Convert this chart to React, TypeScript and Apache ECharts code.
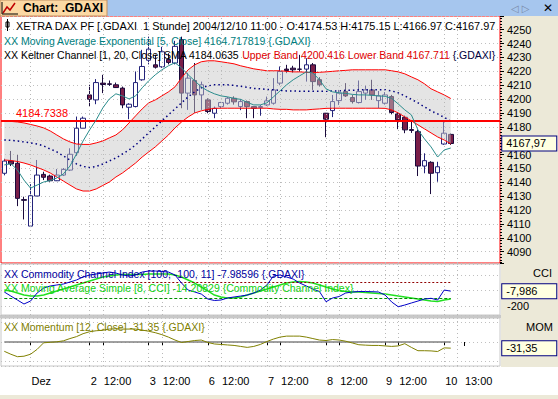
import React, { useEffect, useRef } from 'react';
import * as echarts from 'echarts';

// ---------- categories (hourly bars) ----------
const firstDayHours = ['15:00', '16:00', '17:00', '18:00'];
const tradingDays = ['01.12.', '02.12.', '03.12.', '06.12.', '07.12.', '08.12.', '09.12.', '10.12.'];
const sessionHours = ['10:00', '11:00', '12:00', '13:00', '14:00', '15:00', '16:00', '17:00', '18:00'];

// x axis tick labels [category, label]
const xTickLabels: [string, string][] = [
  ['01.12. 10:00', 'Dez'],
  ['02.12. 10:00', '2'], ['02.12. 12:00', '12:00'],
  ['03.12. 10:00', '3'], ['03.12. 12:00', '12:00'],
  ['06.12. 10:00', '6'], ['06.12. 12:00', '12:00'],
  ['07.12. 10:00', '7'], ['07.12. 12:00', '12:00'],
  ['08.12. 10:00', '8'], ['08.12. 12:00', '12:00'],
  ['09.12. 10:00', '9'], ['09.12. 12:00', '12:00'],
  ['10.12. 10:00', '10'], ['10.12. 13:00', '13:00'],
];
const gridLineCats = [
  '01.12. 10:00', '02.12. 10:00', '02.12. 12:00', '03.12. 10:00', '03.12. 12:00',
  '06.12. 10:00', '06.12. 12:00', '07.12. 10:00', '07.12. 12:00', '08.12. 10:00',
  '08.12. 12:00', '09.12. 10:00', '09.12. 12:00', '10.12. 10:00', '10.12. 12:00',
];

// ---------- price data ----------
const opens = [4146.5, 4155.4, 4153.7, 4127.5, 4108.4, 4130.1, 4145.7, 4144.5, 4141.1, 4145.2, 4148.8, 4161.3, 4179.0, 4203.0, 4199.4, 4211.5, 4211.0, 4210.3, 4207.9, 4194.1, 4194.6, 4213.9, 4228.0, 4224.7, 4223.3, 4228.5, 4226.0, 4242.8, 4204.3, 4213.4, 4203.0, 4199.4, 4189.8, 4194.6, 4197.0, 4200.6, 4194.6, 4198.2, 4194.6, 4194.0, 4195.8, 4197.0, 4211.5, 4221.6, 4222.3, 4221.6, 4221.6, 4224.7, 4214.0, 4189.8, 4191.7, 4198.9, 4205.4, 4201.1, 4197.5, 4204.3, 4206.6, 4198.9, 4197.0, 4201.8, 4189.3, 4186.9, 4178.0, 4176.5, 4151.7, 4154.4, 4146.9, 4167.6, 4174.53];
const closes = [4155.3, 4153.2, 4128.4, 4127.0, 4130.3, 4145.2, 4143.6, 4141.1, 4145.2, 4149.3, 4160.2, 4179.0, 4186.2, 4199.9, 4211.9, 4210.5, 4210.6, 4208.3, 4195.8, 4196.3, 4211.9, 4223.5, 4236.0, 4223.0, 4234.1, 4226.4, 4238.0, 4204.3, 4215.1, 4203.0, 4210.3, 4191.0, 4193.4, 4197.5, 4200.6, 4198.0, 4198.2, 4194.6, 4193.4, 4194.6, 4198.7, 4206.6, 4219.9, 4220.6, 4221.1, 4221.5, 4224.7, 4212.6, 4210.3, 4185.5, 4198.2, 4204.3, 4202.3, 4198.2, 4205.4, 4206.6, 4203.0, 4202.3, 4203.0, 4190.3, 4185.0, 4177.8, 4177.4, 4151.7, 4155.6, 4146.5, 4151.2, 4175.4, 4167.97];
const lows = [4145.0, 4151.7, 4122.8, 4113.2, 4107.7, 4130.0, 4141.6, 4140.5, 4140.9, 4144.5, 4148.1, 4159.0, 4179.0, 4194.6, 4196.3, 4204.3, 4209.5, 4208.0, 4193.4, 4185.5, 4194.0, 4213.2, 4225.0, 4222.0, 4222.5, 4225.0, 4225.0, 4193.4, 4192.2, 4190.0, 4192.2, 4189.8, 4186.2, 4193.4, 4196.0, 4196.0, 4192.0, 4186.2, 4186.2, 4188.0, 4195.0, 4196.0, 4210.0, 4218.7, 4219.0, 4219.8, 4212.6, 4206.6, 4209.0, 4172.5, 4187.0, 4195.8, 4201.5, 4196.8, 4196.8, 4199.5, 4199.4, 4193.4, 4196.0, 4189.0, 4178.3, 4175.4, 4175.6, 4144.5, 4146.5, 4131.5, 4140.4, 4167.0, 4166.97];
const highs = [4157.0, 4162.6, 4159.7, 4129.6, 4138.7, 4156.1, 4147.6, 4145.5, 4149.6, 4150.3, 4164.5, 4187.4, 4187.4, 4210.3, 4214.4, 4217.5, 4213.4, 4211.9, 4209.0, 4197.0, 4219.9, 4235.5, 4245.0, 4232.0, 4237.7, 4233.0, 4242.0, 4245.0, 4218.9, 4226.0, 4212.6, 4200.6, 4194.6, 4198.0, 4201.5, 4202.0, 4200.0, 4199.0, 4195.0, 4195.8, 4201.8, 4215.1, 4223.5, 4224.7, 4224.0, 4231.9, 4229.5, 4226.0, 4215.8, 4190.0, 4203.0, 4206.6, 4211.5, 4203.0, 4213.4, 4209.6, 4213.9, 4205.8, 4205.0, 4203.0, 4190.5, 4188.1, 4184.7, 4178.0, 4160.9, 4155.2, 4154.8, 4183.7, 4175.15];

// ---------- indicators ----------
const emaValues = [4152.5, 4153.5, 4148.9, 4141.6, 4135.8, 4138.0, 4140.2, 4141.3, 4143.1, 4146.0, 4151.7, 4160.4, 4169.8, 4177.8, 4185.0, 4193.6, 4200.1, 4203.8, 4202.3, 4200.1, 4202.3, 4208.1, 4213.2, 4217.5, 4221.1, 4224.0, 4226.2, 4222.5, 4217.5, 4213.2, 4208.8, 4205.9, 4203.8, 4202.3, 4201.6, 4200.5, 4199.8, 4197.6, 4195.8, 4195.8, 4197.3, 4201.6, 4205.9, 4210.3, 4213.9, 4216.8, 4219.6, 4218.9, 4213.9, 4207.4, 4205.2, 4204.5, 4204.1, 4203.4, 4203.0, 4203.0, 4202.7, 4202.3, 4202.0, 4200.5, 4196.5, 4192.2, 4188.6, 4177.8, 4171.3, 4165.5, 4158.2, 4163.3, 4164.717819];
const kcUpper = [4184.3, 4183.9, 4183.5, 4182.8, 4181.7, 4180.6, 4179.2, 4177.0, 4174.1, 4171.3, 4169.1, 4167.6, 4167.3, 4167.3, 4168.4, 4169.8, 4172.0, 4174.1, 4177.8, 4182.8, 4187.9, 4192.9, 4197.3, 4199.4, 4202.3, 4205.2, 4208.8, 4215.3, 4221.1, 4224.7, 4226.9, 4227.6, 4227.6, 4226.9, 4226.2, 4225.4, 4224.0, 4222.9, 4221.8, 4221.1, 4220.4, 4220.4, 4220.4, 4220.0, 4219.6, 4219.6, 4219.3, 4219.1, 4219.3, 4219.6, 4220.0, 4220.4, 4220.7, 4221.1, 4221.1, 4221.1, 4221.1, 4221.1, 4221.1, 4220.4, 4219.6, 4218.2, 4216.0, 4213.9, 4211.0, 4207.4, 4205.2, 4203.0, 4200.416];
const kcMiddle = [4170.5, 4170.2, 4169.8, 4169.1, 4168.4, 4167.6, 4166.2, 4164.0, 4161.9, 4159.0, 4156.1, 4153.2, 4151.4, 4150.7, 4151.4, 4153.2, 4155.4, 4157.5, 4160.4, 4163.3, 4166.9, 4171.3, 4175.6, 4179.9, 4184.3, 4188.6, 4192.9, 4197.3, 4201.6, 4205.2, 4208.1, 4209.5, 4210.3, 4210.3, 4210.3, 4209.9, 4209.2, 4208.5, 4207.7, 4207.4, 4207.0, 4206.7, 4206.3, 4205.9, 4205.9, 4205.6, 4205.6, 4205.6, 4205.6, 4205.6, 4205.9, 4205.9, 4206.3, 4206.3, 4206.7, 4206.7, 4206.7, 4206.7, 4206.7, 4205.9, 4204.5, 4202.3, 4199.8, 4197.3, 4194.4, 4191.5, 4189.3, 4186.8, 4184.0635];
const kcLower = [4156.1, 4155.7, 4155.0, 4153.9, 4152.5, 4150.7, 4148.9, 4146.7, 4143.8, 4140.9, 4138.0, 4135.2, 4133.7, 4133.7, 4135.2, 4137.7, 4140.2, 4143.8, 4146.7, 4150.3, 4153.9, 4158.2, 4161.9, 4165.5, 4169.8, 4174.1, 4179.2, 4183.5, 4187.1, 4190.0, 4191.5, 4192.6, 4193.3, 4193.4, 4193.4, 4193.4, 4193.4, 4193.4, 4193.4, 4193.4, 4193.4, 4192.9, 4192.6, 4192.6, 4192.2, 4192.2, 4192.2, 4192.6, 4192.9, 4193.3, 4193.4, 4193.4, 4193.4, 4193.4, 4193.4, 4193.4, 4193.4, 4193.4, 4193.3, 4192.2, 4190.0, 4187.1, 4184.3, 4181.4, 4178.5, 4175.6, 4172.7, 4170.5, 4167.711];
const priceLevel = 4184.7338;

const cciValues = [-19, -71, -122, -173, -135, -32, 32, 58, 71, 83, 109, 135, 173, 199, 212, 224, 237, 224, 199, 186, 199, 237, 250, 250, 244, 237, 199, 96, 6, -19, -45, -109, -128, -122, -96, -83, -71, -58, -32, 6, 71, 186, 199, 173, 147, 96, 58, 19, -13, -144, -96, -77, -32, -19, -13, -13, -15, -19, -58, -147, -208, -186, -160, -135, -109, -100, -122, 6, -7.98596];
const cciSmaValues = [6, -6, -32, -58, -71, -71, -58, -32, -6, 19, 45, 71, 96, 122, 147, 173, 186, 199, 205, 205, 205, 205, 212, 212, 212, 212, 199, 173, 135, 96, 45, -6, -58, -83, -96, -96, -83, -58, -32, -6, 19, 45, 71, 96, 109, 115, 109, 96, 71, 45, 19, 0, -13, -19, -19, -26, -32, -38, -45, -58, -71, -83, -96, -109, -122, -135, -141, -122, -109];
const cciLevels = [100, -100];

const momValues = [-47.5, -62.5, -75, -72.5, -62.5, -37.5, -4, -1.5, 1, 6, 17.5, 27.5, 42.5, 52.5, 57.5, 60, 66, 67.5, 66, 66, 66, 61, 55, 47.5, 37.5, 25, 10, -2.5, 2.5, 7.5, 10, -2.5, -10, -12.5, -15, -17.5, -22.5, -27.5, -22.5, -12.5, 2.5, 15, 25, 30, 30, 30, 25, 17.5, 10, 7.5, 12.5, 10, 4, -5, -14, -16, -17.5, -17.5, -20, -22.5, -20, -8.5, -27.5, -44.5, -44.5, -45.5, -48.5, -30, -31.35];

const FONT = 'Liberation Sans';

export default function App() {
  const ref = useRef<HTMLDivElement>(null);

  useEffect(() => {
    if (!ref.current) return;
    const chart = echarts.init(ref.current, undefined, { renderer: 'svg' });

    const categories: string[] = [];
    firstDayHours.forEach((h) => categories.push(`30.11. ${h}`));
    tradingDays.forEach((d) => sessionHours.forEach((h) => categories.push(`${d} ${h}`)));

    const tickMap: Record<string, string> = {};
    xTickLabels.forEach(([c, l]) => { tickMap[c] = l; });
    const last = closes.length - 1;
    const lastCat = categories[last];

    const candleData = opens.map((o, i) => [o, closes[i], lows[i], highs[i]]);
    const bandWidth = kcUpper.map((u, i) => u - kcLower[i]);
    const hiddenPriceLabel = Math.round(closes[last] / 10) * 10; // covered by the value box

    const valueBox = (text: string) => ({
      show: true,
      position: 'right',
      distance: 51.5,
      formatter: text,
      color: '#000',
      fontSize: 11,
      fontFamily: FONT,
      backgroundColor: '#FFFFE1',
      borderColor: '#000080',
      borderWidth: 1,
      padding: [2, 3, 1, 4],
      width: 47,
    });

    const gridHelper = (gi: number) => ({
      type: 'line',
      xAxisIndex: gi,
      yAxisIndex: gi,
      data: [],
      z: 1,
      silent: true,
      markLine: {
        silent: true,
        symbol: ['none', 'none'],
        label: { show: false },
        lineStyle: { color: '#b8b8b8', type: [1, 3], width: 1 },
        data: gridLineCats.map((c) => ({ xAxis: c })),
      },
    });

    const xAxisBase = (gi: number) => ({
      type: 'category',
      gridIndex: gi,
      data: categories,
      boundaryGap: true,
      axisLine: { show: false },
      axisTick: { show: false },
      axisLabel: { show: false },
      splitLine: { show: false },
    });

    const option: any = {
      animation: false,
      backgroundColor: '#ffffff',
      grid: [
        { left: 1, top: 16, width: 499, height: 247, show: true, borderColor: '#ff0000', borderWidth: 1, backgroundColor: '#ffffff' },
        { left: 1, top: 264, width: 499, height: 51, show: true, borderColor: '#c8c8c8', borderWidth: 1, backgroundColor: '#ffffff' },
        { left: 1, top: 318, width: 499, height: 48, show: true, borderColor: '#c8c8c8', borderWidth: 1, backgroundColor: '#ffffff' },
      ],
      xAxis: [
        xAxisBase(0),
        xAxisBase(1),
        {
          ...xAxisBase(2),
          position: 'bottom',
          offset: 5,
          axisTick: {
            show: true,
            alignWithLabel: true,
            length: 4,
            interval: (_i: number, v: string) => tickMap[v] !== undefined,
            lineStyle: { color: '#000' },
          },
          axisLabel: {
            show: true,
            interval: (_i: number, v: string) => tickMap[v] !== undefined,
            formatter: (v: string) => tickMap[v] || '',
            align: 'left',
            padding: [0, 0, 0, 1],
            margin: 4,
            color: '#000',
            fontSize: 11,
            fontFamily: FONT,
          },
        },
      ],
      yAxis: [
        {
          type: 'value',
          gridIndex: 0,
          position: 'right',
          min: 4081.8,
          max: 4259.9,
          splitNumber: 18,
          axisLine: { show: false },
          axisTick: { show: true, length: 4, lineStyle: { color: '#000' } },
          minorTick: { show: true, splitNumber: 5, length: 2, lineStyle: { color: '#000' } },
          axisLabel: {
            margin: 7,
            color: '#000',
            fontSize: 11,
            fontFamily: FONT,
            showMinLabel: false,
            showMaxLabel: false,
            formatter: (v: number) => (v >= 4090 && v <= 4250 && v !== hiddenPriceLabel ? String(v) : ''),
          },
          splitLine: { show: true, lineStyle: { color: '#c0c0c0', type: [1, 3] } },
        },
        {
          type: 'value',
          gridIndex: 1,
          position: 'right',
          min: -314,
          max: 340,
          splitNumber: 3,
          axisLine: { show: false },
          axisTick: { show: false },
          axisLabel: {
            margin: 7,
            color: '#000',
            fontSize: 11,
            fontFamily: FONT,
            showMinLabel: false,
            showMaxLabel: false,
            formatter: (v: number) => (v === -200 ? '-200' : ''),
          },
          splitLine: { show: true, lineStyle: { color: '#c0c0c0', type: [1, 3] } },
        },
        {
          type: 'value',
          gridIndex: 2,
          position: 'right',
          min: -122.5,
          max: 122.5,
          splitNumber: 2,
          axisLine: { show: false },
          axisTick: { show: false },
          axisLabel: { show: false },
          splitLine: { show: true, lineStyle: { color: '#c0c0c0', type: [1, 3] } },
        },
      ],
      series: [
        gridHelper(0),
        gridHelper(1),
        gridHelper(2),
        {
          name: 'GDAXI',
          type: 'candlestick',
          xAxisIndex: 0,
          yAxisIndex: 0,
          data: candleData,
          barWidth: 5,
          z: 2,
          itemStyle: {
            color: '#ffffff',
            color0: '#7a1e48',
            borderColor: '#23237a',
            borderColor0: '#1a0a3c',
            borderWidth: 1,
          },
          markLine: {
            silent: true,
            symbol: ['none', 'none'],
            lineStyle: { color: '#ff0000', width: 2, type: 'solid' },
            label: {
              show: true,
              position: 'insideStartTop',
              formatter: String(priceLevel),
              color: '#ff0000',
              fontSize: 11,
              fontFamily: FONT,
              distance: [15, 2],
            },
            data: [{ yAxis: priceLevel }],
          },
          markPoint: {
            symbol: 'rect',
            symbolSize: 0,
            silent: true,
            data: [{ coord: [lastCat, closes[last]], label: valueBox(closes[last].toFixed(2).replace('.', ',')) }],
          },
        },
        {
          type: 'line', xAxisIndex: 0, yAxisIndex: 0, data: kcLower, stack: 'kc',
          symbol: 'none', lineStyle: { opacity: 0 }, z: 3, silent: true,
        },
        {
          type: 'line', xAxisIndex: 0, yAxisIndex: 0, data: bandWidth, stack: 'kc',
          symbol: 'none', lineStyle: { opacity: 0 }, areaStyle: { color: 'rgba(200,200,200,0.7)' }, z: 3, silent: true,
        },
        {
          name: 'Upper Band', type: 'line', xAxisIndex: 0, yAxisIndex: 0, data: kcUpper,
          symbol: 'none', lineStyle: { color: '#ff0000', width: 1 }, z: 4,
        },
        {
          name: 'Lower Band', type: 'line', xAxisIndex: 0, yAxisIndex: 0, data: kcLower,
          symbol: 'none', lineStyle: { color: '#ff0000', width: 1 }, z: 4,
        },
        {
          name: 'SMA', type: 'line', xAxisIndex: 0, yAxisIndex: 0, data: kcMiddle,
          symbol: 'none', lineStyle: { color: '#000080', width: 1.5, type: [1.5, 3] }, z: 4,
        },
        {
          name: 'EMA', type: 'line', xAxisIndex: 0, yAxisIndex: 0, data: emaValues,
          symbol: 'none', lineStyle: { color: '#2a8c8c', width: 1 }, z: 5,
        },
        {
          name: 'CCI', type: 'line', xAxisIndex: 1, yAxisIndex: 1, data: cciValues,
          symbol: 'none', lineStyle: { color: '#0000c8', width: 1 }, z: 5,
          markLine: {
            silent: true,
            symbol: ['none', 'none'],
            label: { show: false },
            data: [
              [{ coord: [categories[0], cciLevels[0]], lineStyle: { color: '#900000', type: [2, 2], width: 1 } }, { coord: [lastCat, cciLevels[0]] }],
              [{ coord: [categories[0], cciLevels[1]], lineStyle: { color: '#009000', type: [3, 2], width: 1 } }, { coord: [lastCat, cciLevels[1]] }],
            ],
          },
          markPoint: {
            symbol: 'rect',
            symbolSize: 0,
            silent: true,
            data: [{ coord: [lastCat, cciValues[last]], label: valueBox(cciValues[last].toFixed(3).replace('.', ',')) }],
          },
        },
        {
          name: 'CCI SMA', type: 'line', xAxisIndex: 1, yAxisIndex: 1, data: cciSmaValues,
          symbol: 'none', lineStyle: { color: '#22e022', width: 1.5 }, z: 4,
        },
        {
          name: 'Momentum', type: 'line', xAxisIndex: 2, yAxisIndex: 2, data: momValues,
          symbol: 'none', lineStyle: { color: '#808000', width: 1 }, z: 5,
          markLine: {
            silent: true,
            symbol: ['none', 'none'],
            label: { show: false },
            lineStyle: { color: '#808080', width: 1.5, type: 'solid' },
            data: [[{ coord: [categories[0], 0] }, { coord: [lastCat, 0] }]],
          },
          markPoint: {
            symbol: 'rect',
            symbolSize: 0,
            silent: true,
            data: [{ coord: [lastCat, momValues[last]], label: valueBox(momValues[last].toFixed(2).replace('.', ',')) }],
          },
        },
      ],
      graphic: [
        // title bar
        { type: 'rect', z: 0, shape: { x: 0, y: 0, width: 558, height: 16 }, style: { fill: '#A6C6EE' } },
        { type: 'rect', z: 0, shape: { x: 0, y: 0, width: 107, height: 16 }, style: { fill: '#FCD9A4', stroke: '#C09060', lineWidth: 1 } },
        { type: 'polyline', z: 1, shape: { points: [[3, 13], [7, 7], [10, 10], [15, 3]] }, style: { stroke: '#C00000', lineWidth: 1.5, fill: null } },
        { type: 'polyline', z: 1, shape: { points: [[2, 2], [2, 14], [18, 14]] }, style: { stroke: '#000', lineWidth: 1, fill: null } },
        { type: 'text', z: 1, x: 23, y: 8, style: { text: 'Chart: .GDAXI', fill: '#000', fontSize: 12, fontWeight: 'bold', fontFamily: FONT, verticalAlign: 'middle' } },
        { type: 'text', z: 1, x: 511, y: 8, style: { text: '◁ ▷', fill: '#7a8aa8', fontSize: 10, fontFamily: 'DejaVu Sans', verticalAlign: 'middle' } },
        { type: 'text', z: 1, x: 543, y: 8, style: { text: '✕', fill: '#000', fontSize: 12, fontWeight: 'bold', fontFamily: 'DejaVu Sans', verticalAlign: 'middle' } },
        // right axis panel
        { type: 'rect', z: 0, shape: { x: 501, y: 16, width: 57, height: 351 }, style: { fill: '#ECE9D8' } },
        { type: 'rect', z: 0, shape: { x: 0, y: 315, width: 501, height: 3 }, style: { fill: '#C8C8C8' } },
        { type: 'rect', z: 0, shape: { x: 0, y: 395, width: 558, height: 4 }, style: { fill: '#ECE9D8' } },
        // legends main
        { type: 'rect', z: 50, shape: { x: 6, y: 22, width: 3, height: 5 }, style: { fill: '#fff', stroke: '#000', lineWidth: 1 } },
        { type: 'line', z: 50, shape: { x1: 7.5, y1: 19, x2: 7.5, y2: 31 }, style: { stroke: '#000', lineWidth: 1 } },
        { type: 'text', z: 50, x: 16, y: 25.5, style: { text: 'XETRA DAX PF [.GDAXI  1 Stunde] 2004/12/10 11:00 - O:4174.53 H:4175.15 L:4166.97 C:4167.97', fill: '#000', fontSize: 10.9, fontFamily: FONT, verticalAlign: 'middle' } },
        { type: 'text', z: 50, x: 4, y: 40.5, style: { text: 'XX Moving Average Exponential [5, Close] 4164.717819 {.GDAXI}', fill: '#008080', fontSize: 10.5, fontFamily: FONT, verticalAlign: 'middle' } },
        {
          type: 'text', z: 50, x: 4, y: 54.5,
          style: {
            text: '{a|XX Keltner Channel [1, 20, Close] SMA 4184.0635 }{b|Upper Band 4200.416 Lower Band 4167.711 }{c|{.GDAXI}}',
            fill: '#000040', fontSize: 10.5, fontFamily: FONT, verticalAlign: 'middle',
            rich: {
              a: { fill: '#000000', fontSize: 10.5, fontFamily: FONT },
              b: { fill: '#e00000', fontSize: 10.5, fontFamily: FONT },
              c: { fill: '#000040', fontSize: 10.5, fontFamily: FONT },
            },
          },
        },
        // legends CCI
        { type: 'text', z: 50, x: 4, y: 274, style: { text: 'XX Commodity Channel Index [100, -100, 11] -7.98596 {.GDAXI}', fill: '#0000a0', fontSize: 10.5, fontFamily: FONT, verticalAlign: 'middle' } },
        { type: 'text', z: 50, x: 4, y: 288, style: { text: 'XX Moving Average Simple [8, CCI] -14.20829 {Commodity Channel Index}', fill: '#10d010', fontSize: 10.5, fontFamily: FONT, verticalAlign: 'middle' } },
        { type: 'text', z: 50, x: 4, y: 327, style: { text: 'XX Momentum [12, Close] -31.35 {.GDAXI}', fill: '#808000', fontSize: 10.5, fontFamily: FONT, verticalAlign: 'middle' } },
        { type: 'text', z: 50, x: 552, y: 273, style: { text: 'CCI', fill: '#000', fontSize: 11, fontFamily: FONT, align: 'right', verticalAlign: 'middle' } },
        { type: 'text', z: 50, x: 553, y: 327, style: { text: 'MOM', fill: '#000', fontSize: 11, fontFamily: FONT, align: 'right', verticalAlign: 'middle' } },
      ],
    };

    chart.setOption(option);
    return () => chart.dispose();
  }, []);

  return <div ref={ref} style={{ position: 'absolute', left: 0, top: 0, width: 558, height: 399 }} />;
}
